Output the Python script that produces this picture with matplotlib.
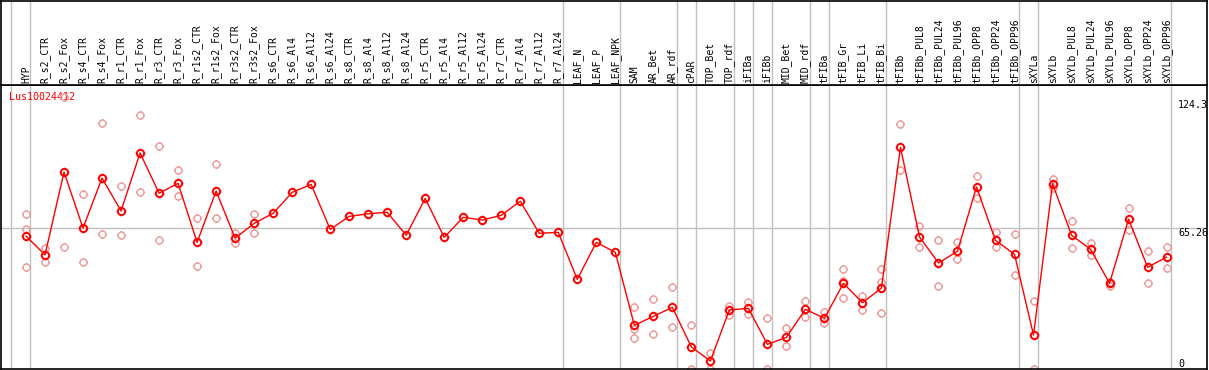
import matplotlib
matplotlib.use('Agg')
import matplotlib.pyplot as plt
import numpy as np
from matplotlib.path import Path

plt.rcParams['font.family'] = 'DejaVu Sans Mono'
plt.rcParams['font.size'] = 7

gene = 'Lus10024412'

samples = ['HYP', 'R_s2_CTR', 'R_s2_Fox', 'R_s4_CTR', 'R_s4_Fox', 'R_r1_CTR', 'R_r1_Fox',
           'R_r3_CTR', 'R_r3_Fox', 'R_r1s2_CTR', 'R_r1s2_Fox', 'R_r3s2_CTR', 'R_r3s2_Fox',
           'R_s6_CTR', 'R_s6_Al4', 'R_s6_Al12', 'R_s6_Al24', 'R_s8_CTR', 'R_s8_Al4',
           'R_s8_Al12', 'R_s8_Al24', 'R_r5_CTR', 'R_r5_Al4', 'R_r5_Al12', 'R_r5_Al24',
           'R_r7_CTR', 'R_r7_Al4', 'R_r7_Al12', 'R_r7_Al24', 'LEAF_N', 'LEAF_P', 'LEAF_NPK',
           'SAM', 'AR_Bet', 'AR_rdf', 'cPAR', 'TOP_Bet', 'TOP_rdf', 'iFIBa', 'iFIBb',
           'MID_Bet', 'MID_rdf', 'tFIBa', 'tFIB_Gr', 'tFIB_Li', 'tFIB_Bi', 'tFIBb',
           'tFIBb_PUL8', 'tFIBb_PUL24', 'tFIBb_PUL96', 'tFIBb_OPP8', 'tFIBb_OPP24',
           'tFIBb_OPP96', 'sXYLa', 'sXYLb', 'sXYLb_PUL8', 'sXYLb_PUL24', 'sXYLb_PUL96',
           'sXYLb_OPP8', 'sXYLb_OPP24', 'sXYLb_OPP96']

means = [61.4, 52.7, 91.0, 65.1, 88.2, 73.0, 99.8, 81.2, 85.8, 58.5, 82.2, 60.4, 67.3,
         71.9, 81.6, 85.3, 64.5, 70.5, 71.7, 72.4, 61.8, 78.8, 60.8, 70.1, 68.8, 71.0,
         77.5, 62.7, 63.1, 41.4, 58.5, 53.9,
         20.2, 24.3, 28.5, 10.2, 3.7, 27.3, 28.0, 11.4, 14.6, 27.6, 23.4, 39.6, 30.6,
         37.4, 102.4, 61.0, 49.0, 54.4, 84.1, 59.4, 53.0, 15.7, 85.6, 61.8, 55.3, 39.6,
         69.3, 47.0, 51.7]

# replicate values per sample (empty where only the mean is shown)
reps = [[71.4, 64.5, 47.1], [55.9, 49.3], [125.5, 56.4], [80.7, 49.3], [113.5, 62.2],
        [84.4, 61.8], [117.3, 81.8], [103.0, 59.4], [91.9, 79.8], [69.6, 47.4],
        [94.7, 69.6], [62.7, 58.3], [71.4, 62.7],
        [], [], [], [], [], [], [], [], [], [], [], [], [], [], [], [], [], [], [],
        [28.5, 18.6, 14.2], [32.2, 16.0], [37.7, 19.3], [20.2, 0.0], [7.2, 0.0],
        [29.1, 24.8], [30.9, 25.4], [23.4, 0.0], [18.9, 10.8], [31.4, 23.9],
        [26.3, 21.1], [46.0, 40.5, 32.7], [33.7, 27.1], [46.0, 40.2, 25.7],
        [113.0, 91.8], [66.1, 56.2], [59.4, 38.3], [58.5, 50.8], [89.0, 79.1],
        [63.1, 56.2], [62.2, 43.3], [31.4, 0.0], [87.8, 83.7], [68.2, 55.7],
        [58.1, 52.5], [40.3, 38.3], [74.4, 64.2], [54.4, 39.7], [56.4, 46.5]]

# index of the last sample in each group
group_ends = [-1, 0, 28, 31, 34, 35, 37, 38, 39, 41, 42, 45, 52, 53, 60]

y_ticks = [0, 65.26, 124.3]
y_tick_labels = ['0', '65.26', '124.3']

# circle marker with four short ticks
circ = Path.unit_circle()
verts = [circ.vertices]
codes = [circ.codes]
for dx, dy in [(1, 0), (-1, 0), (0, 1), (0, -1)]:
    verts.append([[dx, dy], [dx * 1.3, dy * 1.3]])
    codes.append([Path.MOVETO, Path.LINETO])
tick_circle = Path(np.concatenate(verts), np.concatenate(codes))

W, H = 1209, 370
fig = plt.figure(figsize=(W / 100, H / 100), dpi=100)
xl = ((1 - 26) / 19.01, (1207 - 26) / 19.01)

ax = fig.add_axes([1 / W, 1 / H, 1206 / W, 284 / H])
hd = fig.add_axes([1 / W, 285 / H, 1206 / W, 84.5 / H])

x = np.arange(len(samples))
grey = '#c0c0c0'
for a in (ax, hd):
    a.set_xlim(*xl)
    for g in group_ends:
        a.axvline(g + 0.23, color=grey, lw=1, zorder=0)
    a.set_xticks([])
    a.set_yticks([])
    for s in a.spines.values():
        s.set_color('black')
        s.set_linewidth(1.2)

ax.set_ylim(0, 131.2)
ax.axhline(y_ticks[1], color=grey, lw=1, zorder=0)

rx = [i for i, r in enumerate(reps) for _ in r]
ry = [v for r in reps for v in r]
ax.plot(rx, ry, ls='none', marker=tick_circle, ms=6.5, mfc='none', mec='#ee9999',
        mew=1.0, zorder=2)
ax.plot(x, means, color='red', lw=1, zorder=3)
ax.plot(x, means, ls='none', marker=tick_circle, ms=6.8, mfc='none', mec='red',
        mew=1.4, zorder=4)

for v, t in zip(y_ticks, y_tick_labels):
    ax.text(60.6, v, t, ha='left', va='bottom' if v == 0 else 'top', fontsize=7.2,
            clip_on=False)

ax.text(8.5 / 1206, (369 - 97.3) / 284, gene, transform=ax.transAxes, color='red',
        ha='left', va='center', fontsize=7.2, zorder=1)

for i, s in enumerate(samples):
    hd.text(i, 2 / 84.5, s, transform=hd.get_xaxis_transform(), rotation=90,
            ha='center', va='bottom', fontsize=7)

fig.savefig('out.png', dpi=100)
